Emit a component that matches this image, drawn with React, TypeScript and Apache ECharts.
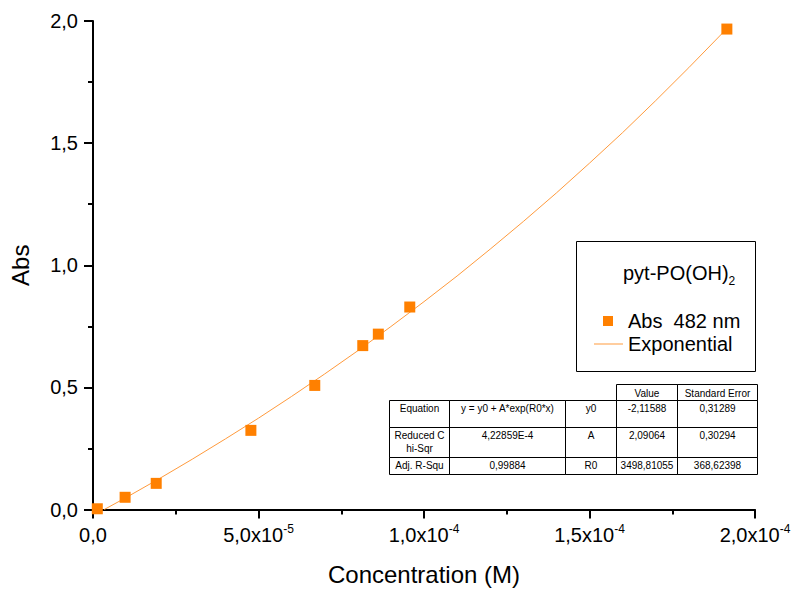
import React, { useEffect, useRef } from 'react';
import * as echarts from 'echarts';

// Measured data (Abs at 482 nm vs concentration in M)
const concentration = [1.3e-6, 9.7e-6, 1.91e-5, 4.77e-5, 6.7e-5, 8.15e-5, 8.62e-5, 9.57e-5, 1.915e-4];
const absorbance = [0.003, 0.05, 0.107, 0.324, 0.508, 0.671, 0.718, 0.829, 1.967];

// Exponential fit curve
const fitX = [3.4e-6, 1e-5, 2e-5, 3e-5, 4e-5, 5e-5, 6e-5, 7e-5, 8e-5, 9e-5, 1e-4, 1.1e-4, 1.2e-4, 1.3e-4, 1.4e-4, 1.5e-4, 1.6e-4, 1.7e-4, 1.8e-4, 1.9e-4, 1.915e-4];
const fitY = [0, 0.049, 0.126, 0.206, 0.289, 0.374, 0.463, 0.555, 0.65, 0.749, 0.851, 0.956, 1.066, 1.179, 1.296, 1.418, 1.543, 1.674, 1.809, 1.948, 1.97];

// Tick labels
const xTickMantissa = ['0,0', '5,0x10', '1,0x10', '1,5x10', '2,0x10'];
const xTickExponent = ['', '-5', '-4', '-4', '-4'];
const yTickLabels = ['0,0', '0,5', '1,0', '1,5', '2,0'];

// Fit results table
const tableHeader = ['', '', '', 'Value', 'Standard Error'];
const tableRowEquation = ['Equation', 'y = y0 + A*exp(R0*x)', 'y0', '-2,11588', '0,31289'];
const tableRowChi = ['Reduced C\nhi-Sqr', '4,22859E-4', 'A', '2,09064', '0,30294'];
const tableRowR2 = ['Adj. R-Squ', '0,99884', 'R0', '3498,81055', '368,62398'];

const legendTitle = 'pyt-PO(OH)';
const legendTitleSub = '2';
const scatterName = 'Abs  482 nm';
const fitName = 'Exponential';

const FONT = '"Liberation Sans", Arial, Helvetica, sans-serif';
const ORANGE = '#FF8000';
const LINE_ORANGE = '#FF9A3C';

function buildTable(): any[] {
  const cols = [389.5, 449.5, 565.5, 616.5, 677.5, 757.5];
  const rowTops = [400.5, 427.5, 457.5, 474.5];
  const headTop = 384.5;
  const els: any[] = [];
  const cell = (x0: number, x1: number, y0: number, y1: number) =>
    els.push({
      type: 'rect',
      shape: { x: x0, y: y0, width: x1 - x0, height: y1 - y0 },
      style: { fill: 'none', stroke: '#000', lineWidth: 1 },
      silent: true,
    });
  const txt = (t: string, cx: number, y: number) =>
    els.push({
      type: 'text',
      x: cx,
      y,
      silent: true,
      style: {
        text: t,
        fill: '#000',
        fontSize: 10,
        fontFamily: FONT,
        lineHeight: 13,
        align: 'center',
        textAlign: 'center',
        verticalAlign: 'top',
        textVerticalAlign: 'top',
      },
    });
  tableHeader.forEach((h, i) => {
    if (h) {
      cell(cols[i], cols[i + 1], headTop, rowTops[0]);
      txt(h, (cols[i] + cols[i + 1]) / 2, headTop + 2);
    }
  });
  const rows = [tableRowEquation, tableRowChi, tableRowR2];
  rows.forEach((r, ri) => {
    r.forEach((v, ci) => {
      cell(cols[ci], cols[ci + 1], rowTops[ri], rowTops[ri + 1]);
      txt(v, (cols[ci] + cols[ci + 1]) / 2, rowTops[ri] + 1);
    });
  });
  return els;
}

export default function App() {
  const ref = useRef<HTMLDivElement>(null);
  useEffect(() => {
    if (!ref.current) return;
    const chart = echarts.init(ref.current, undefined, { renderer: 'svg' });
    const axisCommon = {
      axisLine: { show: true, onZero: false, lineStyle: { color: '#000', width: 2 } },
      axisTick: { show: true, inside: false, length: 9, lineStyle: { color: '#000', width: 2 } },
      minorTick: { show: true, splitNumber: 2, length: 5, lineStyle: { color: '#000', width: 2 } },
      splitLine: { show: false },
      minorSplitLine: { show: false },
    };
    chart.setOption({
      animation: false,
      backgroundColor: '#fff',
      textStyle: { fontFamily: FONT },
      grid: { left: 93, right: 40, top: 21, bottom: 83.5, containLabel: false, outerBoundsMode: 'none' },
      xAxis: {
        type: 'value',
        min: 0,
        max: 2e-4,
        interval: 5e-5,
        ...axisCommon,
        name: 'Concentration (M)',
        nameLocation: 'middle',
        nameGap: 53,
        nameTextStyle: { fontSize: 24, color: '#000', fontFamily: FONT },
        axisLabel: {
          margin: 13,
          color: '#000',
          formatter: (v: number) => {
            const i = Math.round(v / 5e-5);
            const m = xTickMantissa[i] ?? '';
            const e = xTickExponent[i] ?? '';
            return e ? `{m|${m}}{e|${e}}` : `{m|${m}}`;
          },
          rich: {
            m: { fontSize: 20, lineHeight: 24, color: '#000', fontFamily: FONT },
            e: { fontSize: 12, lineHeight: 18, verticalAlign: 'top', color: '#000', fontFamily: FONT },
          },
        },
      },
      yAxis: {
        type: 'value',
        min: 0,
        max: 2,
        interval: 0.5,
        ...axisCommon,
        name: 'Abs',
        nameLocation: 'middle',
        nameGap: 61,
        nameRotate: 90,
        nameTextStyle: { fontSize: 24, color: '#000', fontFamily: FONT },
        axisLabel: {
          margin: 15,
          color: '#000',
          fontSize: 20,
          fontFamily: FONT,
          formatter: (v: number) => yTickLabels[Math.round(v / 0.5)] ?? '',
        },
      },
      legend: [
        {
          data: [{ name: scatterName, icon: 'rect' }],
          left: 603,
          top: 311,
          padding: 0,
          itemWidth: 10,
          itemHeight: 10,
          selectedMode: false,
          textStyle: { fontSize: 20, lineHeight: 20, color: '#000', fontFamily: FONT, padding: [0, 0, 0, 10] },
        },
        {
          data: [{ name: fitName, icon: 'rect' }],
          left: 594,
          top: 334,
          padding: 0,
          itemWidth: 29,
          itemHeight: 1,
          selectedMode: false,
          itemStyle: { color: LINE_ORANGE },
          textStyle: { fontSize: 20, lineHeight: 20, color: '#000', fontFamily: FONT },
        },
      ],
      series: [
        {
          name: fitName,
          type: 'line',
          data: fitX.map((x, i) => [x, fitY[i]]),
          symbol: 'none',
          showSymbol: false,
          lineStyle: { color: LINE_ORANGE, width: 1 },
          itemStyle: { color: LINE_ORANGE },
          z: 2,
        },
        {
          name: scatterName,
          type: 'scatter',
          data: concentration.map((x, i) => [x, absorbance[i]]),
          symbol: 'rect',
          symbolSize: 11,
          itemStyle: { color: ORANGE, opacity: 1 },
          clip: false,
          z: 3,
        },
      ],
      graphic: [
        {
          type: 'rect',
          shape: { x: 576.5, y: 241.5, width: 179, height: 130 },
          style: { fill: 'none', stroke: '#000', lineWidth: 1 },
          silent: true,
        },
        {
          type: 'text',
          x: 623,
          y: 259,
          silent: true,
          style: {
            text: `{a|${legendTitle}}{s|${legendTitleSub}}`,
            fill: '#000',
            verticalAlign: 'top',
            textVerticalAlign: 'top',
            rich: {
              a: { fontSize: 20, lineHeight: 28, fontFamily: FONT, fill: '#000' },
              s: { fontSize: 12, lineHeight: 12, verticalAlign: 'bottom', fontFamily: FONT, fill: '#000' },
            },
          },
        },
        ...buildTable(),
      ],
    });
    return () => chart.dispose();
  }, []);
  return (
    <div
      ref={ref}
      style={{ position: 'fixed', left: 0, top: 0, width: 795, height: 593, background: '#fff' }}
    />
  );
}
